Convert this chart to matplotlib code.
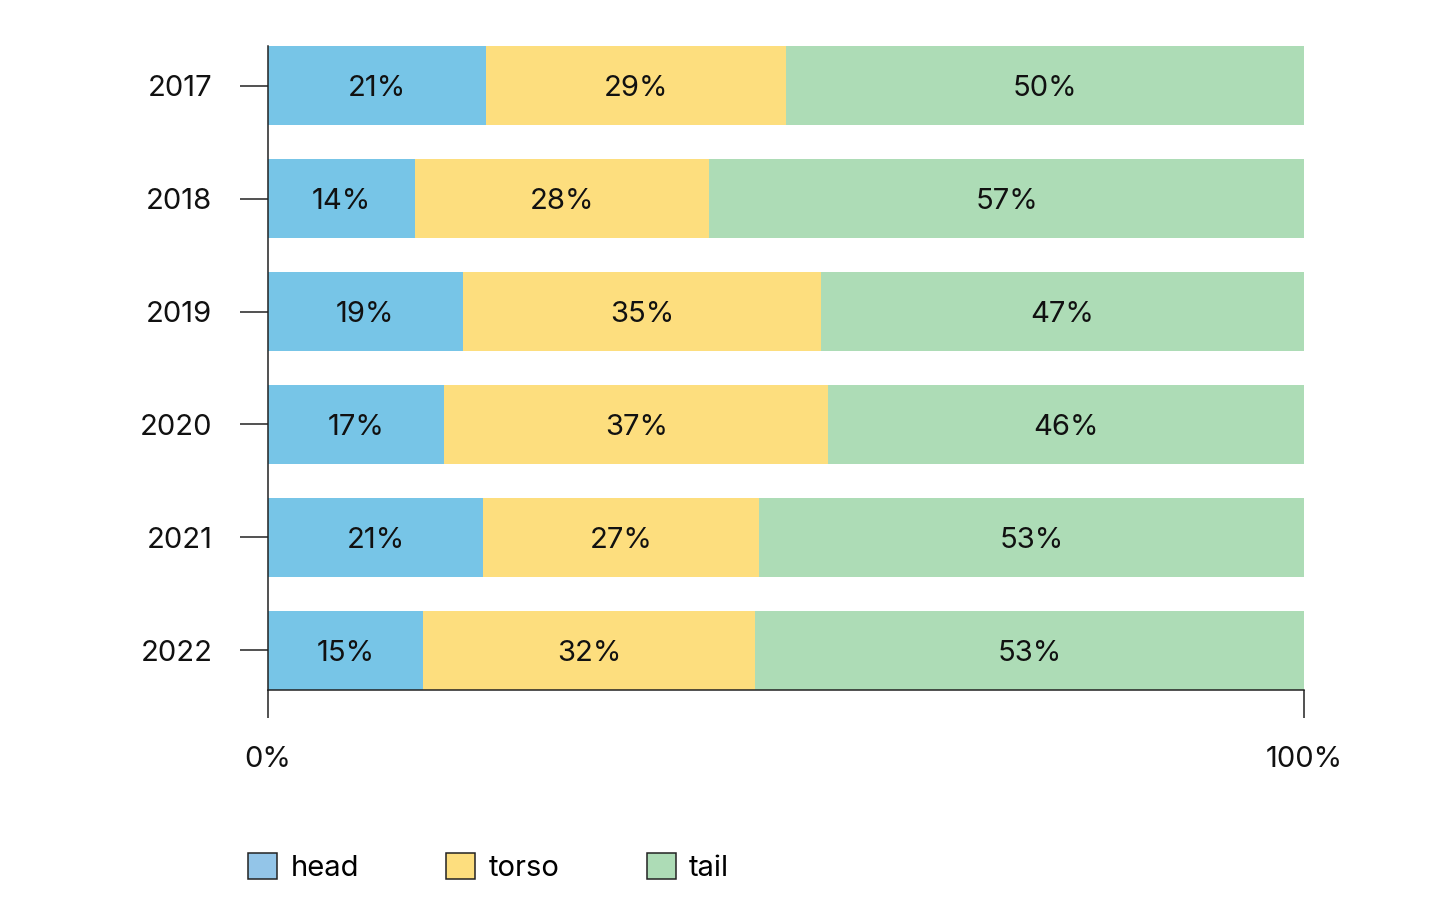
import matplotlib
matplotlib.use("Agg")
import matplotlib.pyplot as plt
from matplotlib.patches import Patch
import numpy as np

plt.rcParams['font.family'] = ['Inter', 'DejaVu Sans']

years = ['2017', '2018', '2019', '2020', '2021', '2022']
head = [21.0, 14.2, 18.8, 17.0, 20.8, 15.0]
torso = [29.0, 28.4, 34.6, 37.1, 26.6, 32.0]
tail = [50.0, 57.4, 46.6, 45.9, 52.6, 53.0]
series_names = ['head', 'torso', 'tail']
colors = ['#77c5e7', '#fdde7e', '#addcb6']
legend_colors = ['#93c5e8', '#fdde7e', '#addcb6']
xtick_vals = [0, 100]
xtick_labels = ['0%', '100%']

fs = 21
fig = plt.figure(figsize=(14.56, 9.18), dpi=100)
ax = fig.add_axes([268/1456, 1-690/918, (1304-268)/1456, (690-46)/918])

y = np.arange(len(years))
left = np.zeros(len(years))
line_c = '#222222'
for vals, c in zip([head, torso, tail], colors):
    vals = np.array(vals)
    ax.barh(y, vals, left=left, height=0.7, color=c, edgecolor='none')
    for yi, l, v in zip(y, left, vals):
        ax.text(l + v/2, yi, f'{v:.0f}%', ha='center', va='center_baseline',
                fontsize=fs, color='#111111')
    left = left + vals

ax.set_ylim(len(years) - 1 + 0.35, -0.35)
ax.set_xlim(0, 100)
ax.set_yticks(y)
ax.set_yticklabels(years)
ax.set_xticks(xtick_vals)
ax.set_xticklabels(xtick_labels)
for s in ['top', 'right']:
    ax.spines[s].set_visible(False)
for s in ['left', 'bottom']:
    ax.spines[s].set_color(line_c)
    ax.spines[s].set_linewidth(1.1)
ax.tick_params(axis='both', length=20, width=1.1, color=line_c, pad=20,
               labelsize=fs, labelcolor='#111111')

handles = [Patch(facecolor=c, edgecolor='#222222', linewidth=1.1) for c in legend_colors]
fig.legend(handles, series_names, loc='upper left',
           bbox_to_anchor=(248/1456, 1-853/918), ncol=3, frameon=False,
           fontsize=fs, handlelength=1.0, handleheight=1.0,
           handletextpad=0.45, columnspacing=3.0, borderaxespad=0, borderpad=0)

fig.savefig('out.png', dpi=100)
